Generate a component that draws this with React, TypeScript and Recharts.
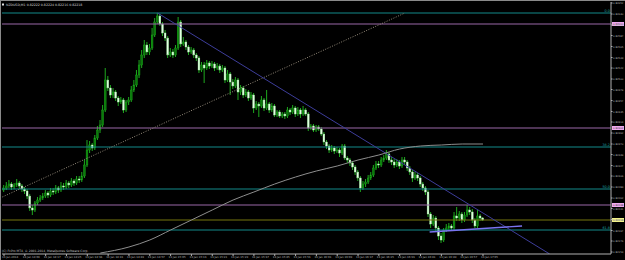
import React from 'react';
import { ComposedChart, Bar, Line, XAxis, YAxis, ReferenceLine } from 'recharts';

// NZDUSD M1, prices in points (0.00001)
const firstOpen = 82278;
const closes = [
  82282, 82286, 82290, 82284, 82288, 82292, 82286, 82280, 82276, 82266,
  82242, 82238, 82252, 82258, 82262, 82266, 82272, 82268, 82276, 82274,
  82282, 82278, 82286, 82284, 82292, 82288, 82296, 82292, 82300, 82298,
  82306, 82328, 82358, 82368, 82362, 82382, 82398, 82408, 82438, 82498,
  82482, 82468, 82474, 82462, 82454, 82458, 82438, 82454, 82458, 82478,
  82488, 82508, 82528, 82548, 82568, 82554, 82562, 82588, 82614, 82626,
  82610, 82592, 82582, 82548, 82554, 82548, 82562, 82614, 82570, 82574,
  82564, 82554, 82558, 82548, 82542, 82518, 82528, 82522, 82532, 82526,
  82530, 82522, 82526, 82518, 82522, 82498, 82510, 82494, 82486, 82498,
  82474, 82482, 82468, 82474, 82462, 82468, 82442, 82450, 82446, 82458,
  82442, 82450, 82438, 82446, 82428, 82434, 82426, 82430, 82426, 82438,
  82434, 82442, 82430, 82438, 82430, 82438, 82430, 82402, 82406, 82398,
  82404, 82400, 82390, 82374, 82366, 82358, 82362, 82356, 82358, 82352,
  82366, 82342, 82338, 82332, 82324, 82314, 82302, 82282, 82290, 82294,
  82302, 82308, 82322, 82330, 82328, 82338, 82342, 82350, 82338, 82334,
  82328, 82334, 82326, 82338, 82334, 82322, 82314, 82302, 82308, 82302,
  82290, 82282, 82274, 82230, 82210, 82222, 82202, 82186, 82178, 82198,
  82202, 82206, 82202, 82226, 82222, 82230, 82218, 82228, 82238, 82234,
  82218, 82206, 82226, 82222, 82218,
];
const highs = [
  82288, 82294, 82298, 82294, 82292, 82300, 82296, 82290, 82284, 82280,
  82270, 82248, 82256, 82264, 82268, 82272, 82278, 82276, 82282, 82282,
  82288, 82286, 82294, 82292, 82298, 82296, 82302, 82300, 82306, 82306,
  82314, 82338, 82378, 82376, 82372, 82388, 82406, 82418, 82448, 82522,
  82506, 82488, 82482, 82478, 82466, 82464, 82462, 82458, 82464, 82486,
  82498, 82518, 82538, 82558, 82578, 82574, 82570, 82602, 82622, 82632,
  82630, 82614, 82598, 82586, 82562, 82560, 82568, 82624, 82618, 82584,
  82578, 82568, 82564, 82562, 82552, 82546, 82534, 82534, 82538, 82536,
  82536, 82534, 82532, 82530, 82528, 82526, 82518, 82514, 82500, 82504,
  82502, 82488, 82486, 82480, 82478, 82474, 82472, 82456, 82454, 82466,
  82462, 82478, 82454, 82452, 82450, 82438, 82438, 82434, 82434, 82444,
  82442, 82448, 82446, 82444, 82442, 82446, 82442, 82434, 82410, 82410,
  82408, 82408, 82404, 82394, 82378, 82370, 82368, 82366, 82364, 82362,
  82370, 82370, 82346, 82342, 82336, 82328, 82318, 82306, 82296, 82300,
  82308, 82314, 82328, 82336, 82336, 82344, 82348, 82358, 82354, 82344,
  82340, 82340, 82338, 82344, 82344, 82338, 82326, 82318, 82314, 82312,
  82306, 82294, 82286, 82278, 82234, 82228, 82226, 82206, 82192, 82202,
  82210, 82212, 82210, 82234, 82244, 82236, 82234, 82234, 82248, 82244,
  82240, 82222, 82238, 82230, 82224,
];
const lows = [
  82274, 82278, 82282, 82278, 82280, 82284, 82280, 82274, 82270, 82260,
  82236, 82228, 82234, 82248, 82254, 82258, 82262, 82262, 82264, 82268,
  82270, 82272, 82274, 82278, 82280, 82282, 82284, 82286, 82288, 82292,
  82294, 82302, 82324, 82352, 82356, 82358, 82378, 82392, 82404, 82434,
  82476, 82462, 82462, 82456, 82446, 82450, 82432, 82434, 82448, 82454,
  82474, 82484, 82502, 82522, 82542, 82548, 82548, 82558, 82584, 82610,
  82606, 82586, 82576, 82542, 82544, 82542, 82544, 82558, 82564, 82566,
  82558, 82548, 82550, 82542, 82536, 82512, 82514, 82492, 82518, 82520,
  82522, 82516, 82518, 82512, 82514, 82492, 82494, 82468, 82480, 82482,
  82458, 82468, 82462, 82464, 82456, 82458, 82432, 82438, 82424, 82442,
  82436, 82438, 82432, 82434, 82424, 82424, 82422, 82422, 82420, 82422,
  82428, 82430, 82424, 82426, 82422, 82426, 82426, 82396, 82398, 82394,
  82394, 82396, 82386, 82368, 82360, 82352, 82354, 82350, 82352, 82344,
  82348, 82338, 82332, 82326, 82318, 82308, 82296, 82274, 82278, 82284,
  82290, 82298, 82304, 82318, 82322, 82324, 82334, 82338, 82332, 82328,
  82322, 82324, 82320, 82322, 82328, 82316, 82308, 82294, 82298, 82296,
  82284, 82276, 82268, 82224, 82202, 82206, 82194, 82178, 82172, 82174,
  82194, 82198, 82196, 82198, 82216, 82216, 82212, 82214, 82224, 82228,
  82212, 82202, 82202, 82216, 82216,
];

// moving average, read at a few bars
const maIdx = [37, 48, 56, 64, 72, 80, 88, 96, 104, 112, 120, 128, 136, 144, 152, 160, 168, 176, 184];
const maVals = [82152, 82164, 82178, 82198, 82218, 82238, 82258, 82274, 82290, 82304, 82316, 82326, 82338, 82348, 82360, 82366, 82368, 82370, 82370];

const timeIdx = [0, 8, 16, 24, 32, 40, 48, 56, 64, 72, 80, 88, 96, 104, 112, 120, 128, 136, 144, 152, 160, 168, 176, 184];
const timeLabels = [
  '13 Jan 2014', '13 Jan 14:09', '13 Jan 14:17', '13 Jan 14:25', '13 Jan 14:33', '13 Jan 14:41',
  '13 Jan 14:49', '13 Jan 14:57', '13 Jan 15:05', '13 Jan 15:13', '13 Jan 15:21', '13 Jan 15:29',
  '13 Jan 15:37', '13 Jan 15:45', '13 Jan 15:53', '13 Jan 16:01', '13 Jan 16:09', '13 Jan 16:17',
  '13 Jan 16:25', '13 Jan 16:33', '13 Jan 16:41', '13 Jan 16:49', '13 Jan 16:57', '13 Jan 17:05',
];
const priceTicks = [
  82154, 82176, 82197, 82219, 82241, 82262, 82284, 82306, 82327, 82349, 82370, 82392,
  82414, 82435, 82457, 82479, 82500, 82522, 82543, 82565, 82587, 82608, 82630, 82652,
];

const fibLevels = [82632, 82364, 82280, 82198];
const fibNames = ['0.0', '38.2', '50.0', '61.8'];
const hLines = [82610, 82402, 82248];
const bid = 82218;

const downTrend = [{ i: 59, v: 82632 }, { i: 209.6, v: 82150 }];
const dotTrend = [{ i: -1.5, v: 82262 }, { i: 154, v: 82632 }];
const lowTrend = [{ i: 163.5, v: 82194 }, { i: 199, v: 82206 }];

const rows = closes.map((c, i) => {
  const k = maIdx.indexOf(i);
  const open = i === 0 ? firstOpen : closes[i - 1];
  return { i, open, close: c, high: highs[i], low: lows[i], range: [lows[i], highs[i]], ma: k >= 0 ? maVals[k] : null };
});

const fmt = (v: number) => (v / 100000).toFixed(5);
const FONT = 'DejaVu Sans';

const Candle = (props: any) => {
  const { x, y, width, height, payload } = props;
  if (x == null || y == null) return null;
  const top = Math.min(y, y + height);
  const h = Math.abs(height);
  const { open, close, high, low } = payload;
  const k = high - low > 0 ? h / (high - low) : 0;
  const yO = top + (high - open) * k;
  const yC = top + (high - close) * k;
  const up = close >= open;
  const cx = x + width / 2;
  const bTop = Math.min(yO, yC);
  const bH = Math.max(Math.abs(yC - yO), 0.8);
  return (
    <g>
      <line x1={cx} x2={cx} y1={top} y2={top + Math.max(h, 0.8)} stroke="#1ea81e" strokeWidth={1} />
      <rect x={cx - 0.9} y={bTop} width={1.8} height={bH}
        fill={up ? '#0b7a0b' : '#e2ffe2'} stroke={up ? '#1cb01c' : '#a8f0a8'} strokeWidth={0.4} />
    </g>
  );
};

const TimeTick = (props: any) => {
  const { x, payload } = props;
  const k = timeIdx.indexOf(payload.value);
  return (
    <text x={x - 2} y={258.4} fontSize={2.7} fill="#bcbcbc" fontFamily={FONT} textAnchor="start">
      {k >= 0 ? timeLabels[k] : ''}
    </text>
  );
};

const PriceTick = (props: any) => {
  const { y, payload } = props;
  return (
    <text x={613} y={y + 1} fontSize={2.5} fill="#bcbcbc" fontFamily={FONT} textAnchor="start">
      {fmt(payload.value)}
    </text>
  );
};

const axisBox = (v: number, bg: string) => (props: any) => {
  const vb = props.viewBox;
  if (!vb) return null;
  const x0 = vb.x + vb.width + 1;
  return (
    <g>
      <rect x={x0} y={vb.y - 2} width={12} height={4} fill={bg} />
      <text x={x0 + 1} y={vb.y + 1} fontSize={2.5} fill="#303030" fontFamily={FONT}>{fmt(v)}</text>
    </g>
  );
};

const fibLabel = (name: string) => (props: any) => {
  const vb = props.viewBox;
  if (!vb) return null;
  return (
    <text x={vb.x + vb.width - 1} y={vb.y - 0.8} fontSize={3.4} fill="#1aa0a0" fontFamily={FONT} textAnchor="end">
      {name}
    </text>
  );
};

export default function App() {
  return (
    <div style={{ position: 'fixed', left: 0, top: 0, width: 625, height: 260, background: '#000' }}>
      <ComposedChart width={625} height={260} data={rows} margin={{ top: 2, right: 0, bottom: 0, left: 2 }}>
        <XAxis dataKey="i" type="number" domain={[-0.768, 233.17]} allowDataOverflow ticks={timeIdx}
          height={6} tick={<TimeTick />} tickSize={2} interval={0}
          axisLine={{ stroke: '#b0b0b0' }} tickLine={{ stroke: '#b0b0b0' }} />
        <YAxis orientation="right" type="number" domain={[82150, 82654]} allowDataOverflow ticks={priceTicks}
          width={14} tick={<PriceTick />} tickSize={1.5} interval={0}
          axisLine={{ stroke: '#b0b0b0' }} tickLine={{ stroke: '#b0b0b0' }} />

        {fibLevels.map((v, k) => (
          <ReferenceLine key={'f' + k} y={v} stroke="#138a8a" strokeWidth={1} label={fibLabel(fibNames[k])} />
        ))}
        {hLines.map((v, k) => (
          <ReferenceLine key={'h' + k} y={v} stroke="#9a68a8" strokeWidth={1} label={axisBox(v, '#eeaaee')} />
        ))}
        <ReferenceLine y={bid} stroke="#76760e" strokeWidth={1.2} label={axisBox(bid, '#f2f28a')} />

        <ReferenceLine segment={[{ x: dotTrend[0].i, y: dotTrend[0].v }, { x: dotTrend[1].i, y: dotTrend[1].v }]}
          stroke="#948a7a" strokeDasharray="1 1.5" ifOverflow="hidden" />
        <ReferenceLine segment={[{ x: downTrend[0].i, y: downTrend[0].v }, { x: downTrend[1].i, y: downTrend[1].v }]}
          stroke="#3d3d9a" strokeWidth={1} ifOverflow="hidden" />

        <Line dataKey="ma" stroke="#8e8e8e" strokeWidth={1} dot={false} connectNulls type="monotone" isAnimationActive={false} />
        <Bar dataKey="range" barSize={2} shape={<Candle />} isAnimationActive={false} />

        <ReferenceLine segment={[{ x: lowTrend[0].i, y: lowTrend[0].v }, { x: lowTrend[1].i, y: lowTrend[1].v }]}
          stroke="#7a74f0" strokeWidth={1.4} ifOverflow="hidden" />
      </ComposedChart>
      <svg width={625} height={260} style={{ position: 'absolute', left: 0, top: 0, pointerEvents: 'none' }}>
        <line x1={0} y1={0.5} x2={625} y2={0.5} stroke="#8a8a8a" />
        <line x1={0.5} y1={0} x2={0.5} y2={260} stroke="#8a8a8a" />
        <rect x={2} y={3.5} width={2} height={2} fill="#e0e0e0" />
        <text x={6} y={6.3} fontSize={3.2} fill="#d0d0d0" fontFamily={FONT}>
          NZDUSD,M1  0.82222 0.82224 0.82216 0.82218
        </text>
        <text x={2} y={252} fontSize={3} fill="#c0c0c0" fontFamily={FONT}>
          (C) FxPro MT4, © 2001-2014, MetaQuotes Software Corp.
        </text>
      </svg>
    </div>
  );
}
